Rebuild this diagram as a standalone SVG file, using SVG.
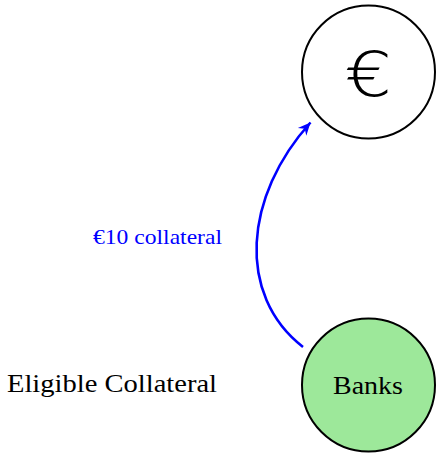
<svg xmlns="http://www.w3.org/2000/svg" width="441" height="455" viewBox="0 0 441 455">
<style>
.node{stroke:#000;stroke-width:2}
.lbl{font-family:"Liberation Serif","DejaVu Serif",serif;font-size:25px;fill:#000}
.edge{fill:none;stroke:#0000ff;stroke-width:2.6}
</style>
<defs>
<marker id="arr" markerUnits="userSpaceOnUse" markerWidth="16" markerHeight="14" viewBox="-12 -6 14 12" refX="0" refY="0" orient="auto">
<path d="M0,0 L-11,-5 L-7.5,0 L-11,5 Z" fill="#0000ff"/>
</marker>
</defs>
<rect width="441" height="455" fill="#fff"/>
<g id="euro">
<circle class="node" cx="368.5" cy="72" r="66.5" fill="#fff"/>
<text x="368.5" y="96" text-anchor="middle" transform="translate(368.5 0) scale(1.2 1) translate(-368.5 0)" style="font-family:'DejaVu Sans',sans-serif;font-size:62px;font-weight:200">€</text>
</g>
<g id="banks">
<circle class="node" cx="368.5" cy="385" r="66.5" fill="#9de89a"/>
<text class="lbl" x="333" y="394" textLength="70" lengthAdjust="spacingAndGlyphs">Banks</text>
</g>
<g id="eligible">
<text class="lbl" x="7" y="391.5" textLength="210" lengthAdjust="spacingAndGlyphs">Eligible Collateral</text>
</g>
<g id="connectors">
<path class="edge" d="M303,347 C236,295 244,196 310.5,122.5" marker-end="url(#arr)"/>
<text x="93" y="244" textLength="129" lengthAdjust="spacingAndGlyphs" style="font-family:'Liberation Serif','DejaVu Serif',serif;font-size:21px;fill:#0000ff">€10 collateral</text>
</g>
</svg>
